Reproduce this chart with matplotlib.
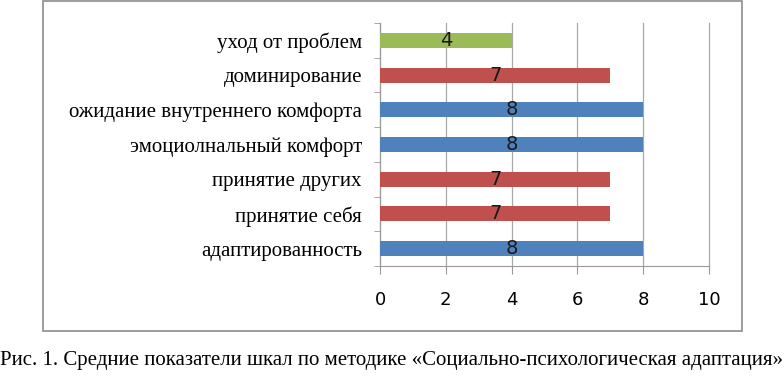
import matplotlib
matplotlib.use("Agg")
import matplotlib.pyplot as plt
from matplotlib.patches import Rectangle

categories = ["адаптированность", "принятие себя", "принятие других",
              "эмоциолнальный комфорт", "ожидание внутреннего комфорта",
              "доминирование", "уход от проблем"]
values = [8, 7, 7, 8, 8, 7, 4]
bar_colors = ["#4F81BD", "#C0504D", "#C0504D", "#4F81BD", "#4F81BD", "#C0504D", "#9BBB59"]
xticks = [0, 2, 4, 6, 8, 10]
caption = "Рис. 1. Средние показатели шкал по методике «Социально-психологическая адаптация»"

fig = plt.figure(figsize=(7.84, 3.79), dpi=100)
W, H = 784, 379

# outer frame
fig.patches.append(Rectangle((43 / W, 1 - 331 / H), (742 - 43) / W, (331 - 1) / H,
                             transform=fig.transFigure, fill=False,
                             edgecolor="#8c8c8c", linewidth=1.2))

ax = fig.add_axes([380 / W, 1 - 266 / H, (709 - 380) / W, (266 - 23) / H])
y = list(range(len(categories)))
bars = ax.barh(y, values, height=0.43, color=bar_colors, zorder=3)
for b, v in zip(bars, values):
    ax.text(b.get_width() / 2, b.get_y() + b.get_height() / 2, str(v),
            ha="center", va="center", fontsize=14, family="DejaVu Sans",
            color="#1a1a1a", zorder=4)

ax.set_xlim(0, 10)
ax.set_ylim(-0.5, len(categories) - 0.5)
ax.set_xticks(xticks)
ax.set_xticklabels([str(t) for t in xticks], fontsize=13, family="DejaVu Sans")
ax.set_yticks(y)
ax.set_yticklabels(categories, fontsize=15, family="Liberation Serif")
ax.tick_params(axis="y", length=0, pad=13)
ax.tick_params(axis="x", length=6, pad=12, color="#999999", direction="out")
ax.set_yticks([i - 0.5 for i in range(len(categories) + 1)], minor=True)
ax.tick_params(axis="y", which="minor", length=4, color="#999999", direction="out")
ax.grid(axis="x", color="#a8a8a8", linewidth=0.9, zorder=0)
for gl in ax.get_xgridlines():
    gl.set_clip_on(False)
for s in ["top", "right"]:
    ax.spines[s].set_visible(False)
ax.spines["left"].set_color("#999999")
ax.spines["bottom"].set_color("#999999")

fig.text(0.5, 1 - 361 / H, caption, ha="center", va="center",
         fontsize=15, family="Liberation Serif")

fig.savefig("out.png", dpi=100)
